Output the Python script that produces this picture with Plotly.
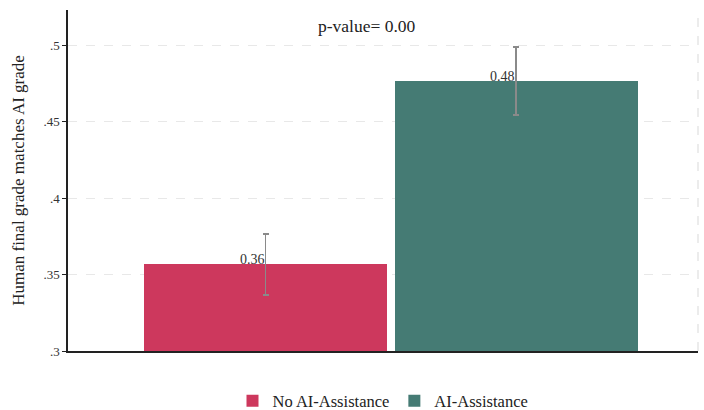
import plotly.graph_objects as go

groups = ["No AI-Assistance", "AI-Assistance"]
means = [0.357, 0.4765]
ci_low = [0.3366, 0.4543]
ci_high = [0.3765, 0.4987]
labels = ["0.36", "0.48"]
colors = ["#CD385D", "#457B74"]
xpos = [1, 2]
p_text = "p-value= 0.00"

font_family = "Liberation Serif, DejaVu Serif, serif"

fig = go.Figure()
for i, g in enumerate(groups):
    fig.add_trace(go.Bar(
        x=[xpos[i]], y=[means[i] - 0.3], base=0.3, name=g,
        marker=dict(color=colors[i], line=dict(width=0)),
        width=0.97,
        error_y=dict(type="data", symmetric=False,
                     array=[ci_high[i] - means[i]],
                     arrayminus=[means[i] - ci_low[i]],
                     color="#8a8a8a", thickness=1.5, width=3),
        hoverinfo="skip",
    ))
    fig.add_annotation(x=xpos[i], y=means[i], text=labels[i], showarrow=False,
                       xanchor="right", yanchor="bottom", yshift=-5, xshift=1,
                       font=dict(size=14, color="#333333", family=font_family))

fig.add_annotation(x=0.475, xref="paper", y=0.5124, yref="y", text=p_text,
                   showarrow=False, xanchor="center", yanchor="middle",
                   font=dict(size=17.5, color="#222222", family=font_family))

fig.add_shape(type="line", xref="paper", yref="paper", x0=1, x1=1, y0=0, y1=1,
              line=dict(color="#e6e6e6", width=1.5, dash="dash"), layer="below")

fig.update_layout(
    width=704, height=410,
    margin=dict(l=68, r=6, t=10, b=59, autoexpand=False),
    paper_bgcolor="white", plot_bgcolor="white",
    font=dict(family=font_family, size=13, color="#222222"),
    bargap=0, showlegend=True,
    legend=dict(orientation="h", x=0.5, xanchor="center",
                yref="container", y=0.022, yanchor="middle",
                font=dict(size=16.5, family=font_family, color="#222222"),
                itemwidth=30, traceorder="normal"),
    xaxis=dict(range=[0.2116, 2.7265], showticklabels=False, showgrid=False,
               zeroline=False, showline=True, linecolor="#222222", linewidth=1.5,
               ticks=""),
    yaxis=dict(range=[0.3, 0.523], tickvals=[0.3, 0.35, 0.4, 0.45, 0.5],
               ticktext=[".3", ".35", ".4", ".45", ".5"],
               showgrid=True, gridcolor="#e8e8e8", griddash="dash", gridwidth=1.2,
               zeroline=False, showline=True, linecolor="#222222", linewidth=1.5,
               ticks="outside", ticklen=4, tickcolor="#222222",
               tickfont=dict(size=13, family=font_family, color="#333333"),
               title=dict(text="Human final grade matches AI grade",
                          font=dict(size=17, family=font_family, color="#222222"),
                          standoff=14)),
)

fig.write_html("out.html")
